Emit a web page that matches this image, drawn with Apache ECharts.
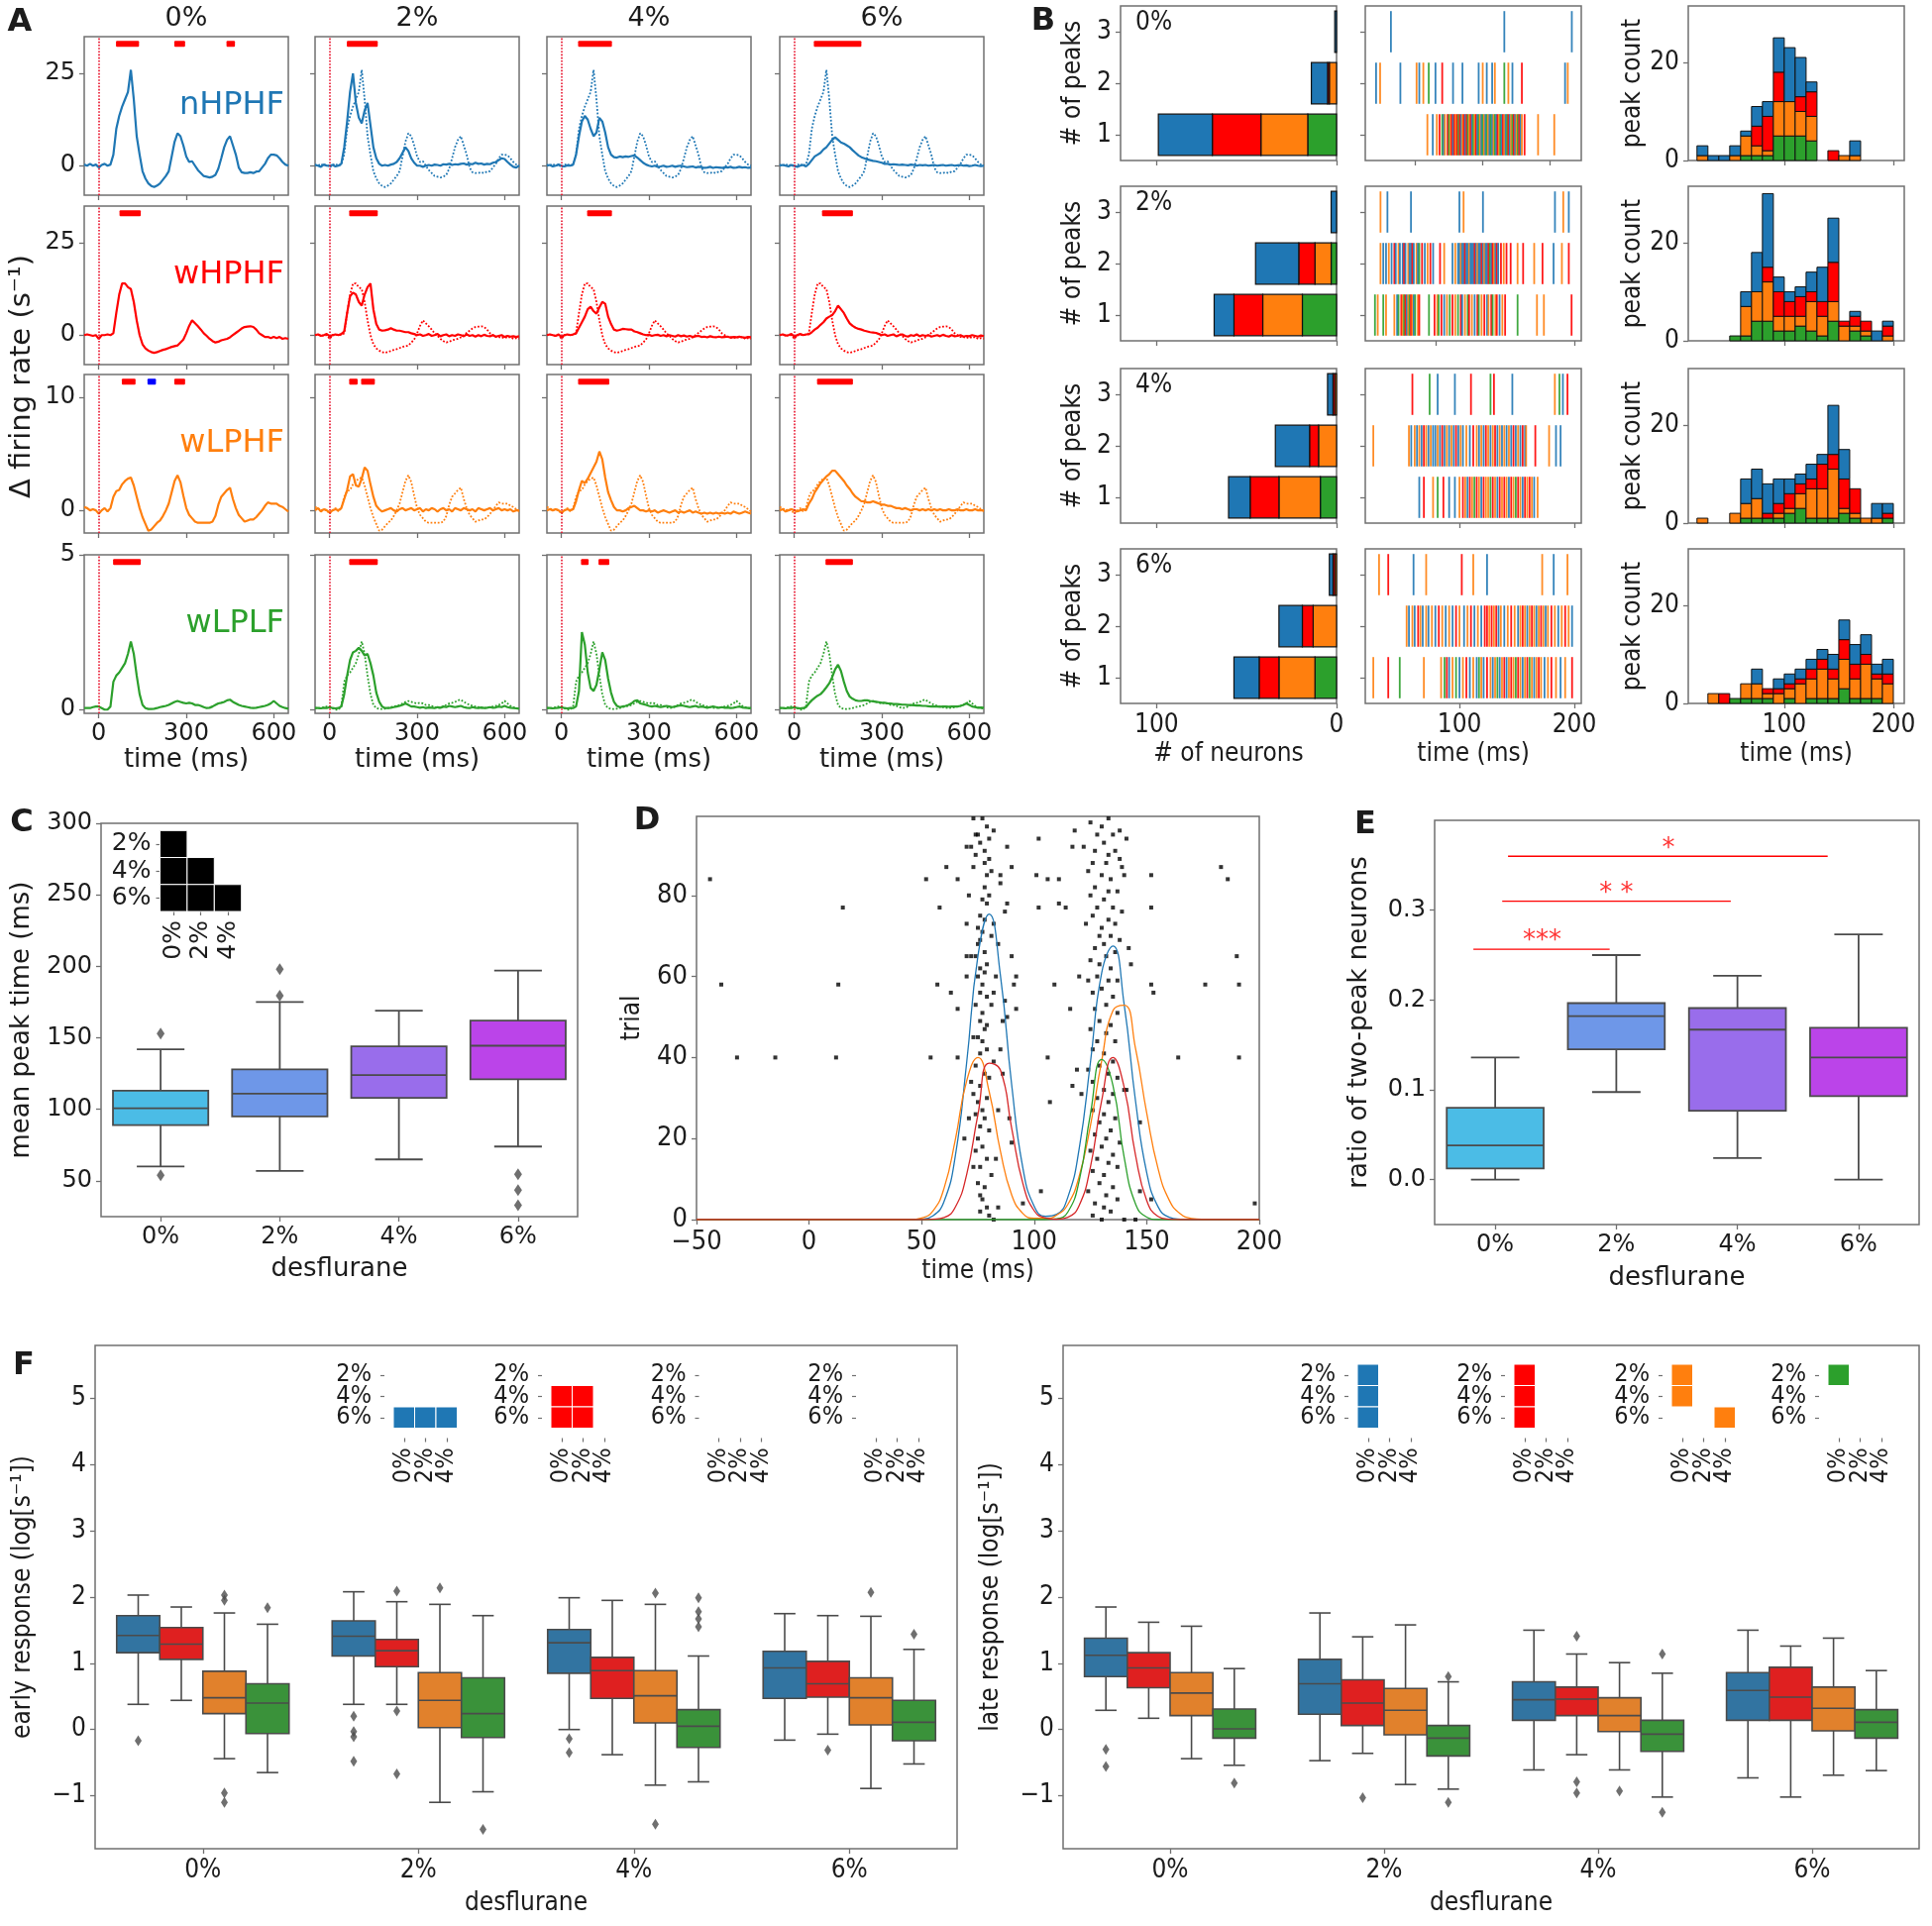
<!DOCTYPE html>
<html lang="en">
<head>
    <meta charset="UTF-8">
    <title>Peak timing under desflurane</title>
    <script src="https://cdn.jsdelivr.net/npm/echarts@6.0.0/dist/echarts.min.js"></script>
    <style>html, body { margin: 0; padding: 0; background: #fff; }</style>
</head>
<body>
    <div id="main" style="width: 1950px; height: 1944px;"></div>
    <script>
        // ---------- data ----------
        var conds = ['0%', '2%', '4%', '6%'];
        var cellTypes = ['nHPHF', 'wHPHF', 'wLPHF', 'wLPLF'];

        // A: firing-rate traces, sampled every 10 ms from -50 to 650 ms
        var nhphf0 = [0.3, 0, 0.5, 0, 0.3, -0.5, 0.2, 0.5, 0, 0.3,
            3, 10, 13.5, 16, 18, 20, 26, 18, 8, 3,
            -1.5, -3.5, -4.8, -5.5, -5.8, -5.4, -4.8, -3.8, -2.8, -1.5,
            2.5, 6.5, 8.8, 8, 5.5, 2.5, 1, 1.2, 0, -1.2,
            -2, -2.8, -3, -3.2, -3, -2.5, -0.8, 2, 5, 7,
            8, 5.5, 3, -0.5, -1.8, -2, -2, -1.8, -2, -1.6,
            -1.5, -0.5, 0.5, 2, 3, 3, 2.8, 2, 1, 0.3, 0];
        var nhphf2 = [0.2, 0, -0.3, 0.3, 0, 0, 0.2, -0.2, 0, 0.5,
            5, 12, 20, 25, 17, 13, 11.5, 15, 17, 11,
            5, 2, 0.5, 0, 0.2, 0, 0.3, 0.5, 1, 2,
            3.5, 5, 4, 2, 0.8, 0, 0, -0.3, 0, 0.2,
            0, 0.3, 0.2, 0, 0.4, 0.3, 0.5, 0.2, 0.4, 0.3,
            0.5, 0.6, 0.3, 0.5, 0.4, 0.8, 0.5, 0.6, 0.3, 0.5,
            0.4, 0.8, 1, 1.5, 2, 1.8, 1, 0.3, -0.3, -0.5, 0];
        var nhphf4 = [0, 0.2, -0.2, 0, 0.3, 0, -0.2, 0.1, 0, 0.3,
            3, 8, 12, 13.5, 12.5, 10, 8, 9, 13, 12,
            9, 5, 3, 2.3, 2.2, 2.5, 2.3, 2.5, 2.4, 2.6,
            2.8, 2.2, 1.5, 0.8, 0.3, 0, -0.2, 0, -0.3, -0.2,
            0, -0.3, -0.2, 0, -0.3, -0.1, 0, -0.2, -0.4, -0.3,
            -0.2, -0.5, -0.3, -0.4, -0.6, -0.5, -0.3, -0.6, -0.4, -0.5,
            -0.6, -0.4, -0.5, -0.3, -0.6, -0.5, -0.3, -0.5, -0.4, -0.6, -0.5];
        var nhphf6 = [0, 0.2, 0, -0.2, 0.2, 0, -0.3, 0, 0.2, -0.2,
            0.5, 1.5, 2.5, 3, 3.5, 4.4, 5, 6, 7, 7.7,
            7, 6.3, 6, 5.5, 5, 4.2, 3.5, 2.8, 2.3, 2,
            1.7, 1.5, 1.3, 1.2, 1, 0.8, 0.5, 0.5, 0.3, 0.4,
            0.3, 0.2, 0.3, 0.2, 0.1, 0.3, 0.2, 0, 0.2, 0.1,
            0.2, 0, 0.1, 0.2, 0, 0.1, 0.2, 0, 0.1, 0.2,
            0, 0.1, 0.2, 0, 0.1, -0.1, 0, 0.2, 0, -0.1, 0];
        var whphf0 = [0, 0.2, 0, -0.2, 0, -1, 0, 0, 0.2, 0,
            0.5, 6, 11, 14, 14, 13, 12.5, 9, 4, 0,
            -2.5, -3.6, -4.2, -4.6, -4.8, -4.6, -4.3, -4, -3.8, -3.5,
            -3.2, -3, -2.8, -2, -1.2, 0.5, 2.5, 4, 3.2, 2.4,
            1.5, 0.5, -0.2, -1, -1.6, -2, -1.8, -1.4, -1.2, -1,
            -0.6, 0, 0.6, 1.2, 1.8, 2.2, 2.3, 2.4, 2.2, 1.5,
            0.5, 0, -0.5, -0.5, -0.8, -0.5, -0.8, -0.5, -1, -0.8, -1];
        var whphf2 = [0, 0.2, -0.2, 0, 0.3, -0.3, 0, 0.2, 0, 0.3,
            1, 6, 10.5, 11.5, 11, 9, 8, 11, 13, 14,
            7, 3, 1.5, 1.2, 1.3, 1.5, 1.9, 1.5, 1.2, 1.2,
            1, 0.8, 0.8, 0.5, 0.3, 0, 0.2, -0.2, 0, 0.3,
            -0.2, 0, 0.3, -0.3, 0, 0.2, -0.3, 0, -0.2, 0.2,
            0, -0.3, 0.2, -0.2, 0, -0.4, 0, -0.3, 0.1, -0.2,
            -0.3, 0, -0.4, -0.2, 0, -0.5, -0.2, -0.4, -0.3, -0.5, -0.3];
        var whphf4 = [0, 0.2, 0, -0.2, 0.2, -0.5, 0, 0.2, 0, 0.2,
            0.5, 2, 3.5, 5, 7, 7.7, 6.5, 5.8, 7.5, 9,
            8.5, 5, 3, 1.5, 1.2, 1.4, 1.7, 1.6, 1.5, 1.5,
            1, 0.8, 0.5, 0.2, 0, 0.1, -0.2, 0, 0.1, -0.2,
            0, -0.3, 0, -0.2, -0.4, 0, -0.3, -0.1, -0.4, -0.2,
            -0.5, -0.3, -0.2, -0.5, -0.4, -0.6, -0.3, -0.5, -0.6, -0.4,
            -0.6, -0.5, -0.4, -0.7, -0.5, -0.6, -0.4, -0.6, -0.7, -0.5, -0.6];
        var whphf6 = [0, 0.2, -0.1, 0, 0.3, -0.4, 0, 0.3, 0, 0.2,
            0.2, 0.8, 1.5, 2, 2.8, 3.5, 4.5, 5, 5.4, 6.5,
            8, 7, 6, 4.5, 3.2, 2.5, 2, 1.7, 1.5, 1.2,
            1, 0.8, 0.7, 0.6, 0.3, 0, 0.2, -0.2, 0, 0.2,
            -0.3, 0, 0.2, -0.2, -0.4, 0, -0.2, 0.2, -0.3, 0,
            -0.2, 0, -0.4, -0.2, 0, -0.3, 0.1, -0.2, -0.4, 0,
            -0.3, -0.2, 0, -0.4, -0.2, -0.3, 0, -0.2, -0.4, -0.1, -0.3];
        var wlphf0 = [0.3, 0.2, 0, 0.1, 0, -0.3, 0, 0.2, -0.1, 0.2,
            1.2, 1.7, 1.8, 2.3, 2.6, 2.8, 2.9, 2.2, 1.2, 0.2,
            -0.6, -1.2, -1.8, -1.7, -1.4, -1.1, -0.9, -0.5, 0, 0.6,
            1.6, 2.6, 3.1, 2.5, 1.3, 0.2, -0.4, -0.7, -1, -1.1,
            -1.1, -1.1, -1.1, -1.1, -1, -0.5, 0.5, 1.2, 1.5, 1.8,
            2, 1, 0.2, -0.4, -0.7, -1, -0.9, -0.8, -0.8, -0.6,
            -0.3, 0, 0.4, 0.7, 0.6, 0.6, 0.6, 0.4, 0.3, 0.1, -0.1];
        var wlphf2 = [0, 0.2, -0.1, 0.1, 0, -0.2, 0, 0.1, 0, 0.2,
            1, 1.8, 3, 3.2, 2.2, 2.1, 2.8, 3.8, 3.5, 2.3,
            1.2, 0.4, 0.1, -0.1, 0, 0.1, 0.2, 0, -0.1, 0.1,
            0.2, 0, 0.1, 0.2, 0, 0.1, 0.2, -0.1, 0.1, 0,
            0.2, 0.1, -0.1, 0.1, 0.2, 0, 0.1, -0.1, 0.2, 0.1,
            0, 0.2, 0.1, 0, 0.1, -0.1, 0.2, 0.1, 0, 0.1,
            0.2, 0, 0.1, 0.2, 0, 0.1, 0, 0.1, -0.1, 0, 0];
        var wlphf4 = [0, 0.1, 0, 0.1, 0, -0.2, 0, 0.1, 0, 0.1,
            0.8, 1.8, 2.6, 2.4, 2.8, 3.3, 3.8, 4.3, 5.2, 4.5,
            2.9, 1.6, 0.9, 0.3, 0, 0, -0.1, 0, 0.2, 0.3,
            0.4, 0.2, 0, 0, -0.1, 0, -0.1, 0, -0.2, -0.1,
            0, -0.1, -0.2, -0.1, 0, -0.2, -0.1, -0.2, -0.1, 0,
            -0.2, -0.1, -0.2, -0.3, -0.2, -0.3, -0.2, -0.3, -0.2, -0.3,
            -0.2, -0.3, -0.2, -0.3, -0.1, -0.2, -0.3, -0.2, -0.1, -0.2, -0.3];
        var wlphf6 = [0, 0.1, -0.1, 0, 0.1, 0, -0.1, 0, 0.1, 0,
            0.6, 1, 1.6, 2, 2.4, 2.7, 3, 3.2, 3.5, 3.5,
            3.2, 2.9, 2.6, 2.2, 1.9, 1.5, 1.2, 1, 0.8, 0.8,
            0.7, 0.7, 0.8, 0.7, 0.6, 0.5, 0.5, 0.4, 0.4, 0.3,
            0.2, 0.2, 0.1, 0.2, 0.1, 0, 0.1, 0.1, 0, 0.1,
            0, 0.1, 0, 0.1, 0, 0.1, 0, 0, 0.1, 0,
            0, 0.1, 0, 0, 0.1, 0, 0, 0.1, 0, 0, 0];
        var wlplf0 = [0.05, 0.05, 0.05, 0.08, 0.1, 0.1, 0.05, 0, 0, 0.1,
            0.9, 1.1, 1.2, 1.35, 1.5, 1.8, 2.2, 1.8, 1.1, 0.5,
            0.15, 0.05, 0.02, 0.02, 0.03, 0.05, 0.08, 0.1, 0.12, 0.15,
            0.2, 0.25, 0.28, 0.25, 0.22, 0.2, 0.22, 0.2, 0.15, 0.15,
            0.12, 0.08, 0.05, 0.06, 0.1, 0.15, 0.2, 0.22, 0.25, 0.3,
            0.32, 0.25, 0.2, 0.15, 0.12, 0.1, 0.08, 0.06, 0.05, 0.06,
            0.08, 0.1, 0.12, 0.15, 0.2, 0.28, 0.2, 0.12, 0.08, 0.05, 0.03];
        var wlplf2 = [0.05, 0.05, 0.04, 0.06, 0.05, 0.08, 0.05, 0.04, 0.05, 0.1,
            0.5, 1.1, 1.6, 1.85, 1.9, 2, 1.9, 1.75, 1.8, 1.5,
            1.1, 0.55, 0.25, 0.1, 0.05, 0.05, 0.06, 0.08, 0.1, 0.12,
            0.15, 0.2, 0.15, 0.1, 0.1, 0.08, 0.06, 0.08, 0.05, 0.07,
            0.06, 0.05, 0.08, 0.06, 0.1, 0.08, 0.12, 0.1, 0.08, 0.1,
            0.12, 0.08, 0.06, 0.05, 0.08, 0.06, 0.05, 0.07, 0.05, 0.06,
            0.08, 0.06, 0.07, 0.1, 0.08, 0.12, 0.08, 0.06, 0.05, 0.04, 0.03];
        var wlplf4 = [0.05, 0.05, 0.04, 0.05, 0.06, 0.08, 0.05, 0.04, 0.05, 0.05,
            0.1, 0.6, 2.5, 2.1, 1.2, 0.7, 0.6, 0.8, 1.3, 1.85,
            1.6, 1, 0.55, 0.25, 0.12, 0.08, 0.1, 0.12, 0.15, 0.2,
            0.28, 0.3, 0.2, 0.18, 0.15, 0.12, 0.1, 0.12, 0.1, 0.08,
            0.1, 0.12, 0.1, 0.08, 0.1, 0.12, 0.14, 0.12, 0.1, 0.08,
            0.1, 0.12, 0.08, 0.1, 0.08, 0.06, 0.08, 0.1, 0.08, 0.06,
            0.08, 0.06, 0.07, 0.05, 0.06, 0.08, 0.1, 0.07, 0.06, 0.05, 0.05];
        var wlplf6 = [0.05, 0.05, 0.04, 0.06, 0.05, 0.08, 0.05, 0.04, 0.05, 0.08,
            0.2, 0.3, 0.38, 0.45, 0.5, 0.6, 0.72, 0.85, 1.05, 1.3,
            1.45, 1.25, 0.9, 0.6, 0.42, 0.35, 0.3, 0.28, 0.28, 0.3,
            0.3, 0.28, 0.27, 0.25, 0.24, 0.22, 0.22, 0.2, 0.2, 0.18,
            0.18, 0.17, 0.16, 0.16, 0.15, 0.15, 0.14, 0.13, 0.13, 0.12,
            0.12, 0.11, 0.1, 0.1, 0.1, 0.09, 0.1, 0.1, 0.09, 0.1,
            0.1, 0.1, 0.12, 0.15, 0.2, 0.15, 0.1, 0.08, 0.06, 0.07, 0.06];

        // A: significant windows [start ms, end ms, +1 increase / -1 decrease]
        var sigA = [
            [[[59, 138, 1], [259, 296, 1], [438, 467, 1]], [[59, 165, 1]], [[57, 173, 1]], [[67, 230, 1]]],
            [[[71, 144, 1]], [[67, 165, 1]], [[88, 173, 1]], [[95, 201, 1]]],
            [[[79, 126, 1], [167, 196, -1], [259, 296, 1]], [[67, 96, 1], [108, 155, 1]], [[57, 164, 1]], [[78, 201, 1]]],
            [[[49, 144, 1]], [[67, 165, 1]], [[67, 93, 1], [127, 164, 1]], [[107, 201, 1]]]
        ];

        // B: neurons per number of peaks [1, 2, 3], one row per condition
        var nBlue = [[30, 9, 1], [11, 24, 3], [12, 19, 3], [14, 13, 2]];
        var nRed = [[27, 1, 0], [16, 9, 0], [16, 5, 1], [11, 6, 1]];
        var nOrange = [[26, 4, 0], [22, 9, 0], [23, 10, 1], [20, 13, 1]];
        var nGreen = [[16, 0, 0], [19, 3, 0], [9, 0, 0], [12, 0, 0]];

        // B: peak times [ms, type] (0 nHPHF, 1 wHPHF, 2 wLPHF, 3 wLPLF)
        var peaks0_1 = [[59,2],[63,0],[66,2],[68,1],[70,3],[71,0],[72,2],[74,1],[75,3],[76,2],[77,1],[78,0],[79,1],[80,2],[81,1],[82,3],[83,1],[84,0],[85,2],[86,1],[87,0],[88,1],[89,3],[90,2],[91,1],[92,0],[93,3],[94,2],[95,1],[96,0],[97,3],[98,2],[99,0],[100,3],[101,2],[102,0],[103,3],[104,2],[105,0],[106,3],[107,0],[108,2],[109,3],[110,0],[111,1],[112,2],[113,3],[114,0],[115,1],[116,2],[117,0],[118,3],[119,1],[120,0],[121,2],[122,3],[123,1],[124,0],[125,2],[126,3],[127,1],[128,0],[129,2],[131,1],[141,2],[153,2]];
        var peaks0_2 = [[21,0],[24,2],[39,0],[51,2],[53,0],[56,2],[60,3],[65,0],[70,1],[78,0],[85,0],[97,0],[100,2],[103,0],[107,0],[109,2],[116,3],[119,2],[122,0],[129,1],[161,0],[163,2]];
        var peaks0_3 = [[32,0],[116,0],[166,0]];
        var peaks2_1 = [[56,3],[58,2],[62,3],[64,2],[70,2],[72,0],[73,3],[75,1],[76,2],[77,3],[78,1],[79,0],[80,2],[81,3],[82,1],[83,2],[84,0],[85,3],[87,2],[88,1],[95,3],[99,1],[101,2],[102,3],[104,1],[106,0],[108,2],[110,3],[112,1],[114,2],[116,3],[118,1],[119,0],[121,2],[123,3],[124,1],[126,2],[128,0],[130,1],[131,3],[133,2],[135,1],[137,0],[138,2],[140,1],[141,3],[143,2],[144,1],[146,0],[148,2],[150,1],[159,3],[173,2],[178,2],[198,1]];
        var peaks2_2 = [[60,2],[62,0],[64,0],[66,2],[68,0],[70,1],[71,0],[73,2],[74,0],[76,0],[77,1],[78,0],[80,2],[81,0],[82,0],[83,1],[84,0],[86,2],[87,0],[88,3],[90,1],[92,0],[94,2],[96,1],[98,0],[103,1],[106,2],[112,0],[114,2],[116,0],[117,0],[118,2],[119,0],[120,0],[121,1],[122,0],[123,0],[124,2],[125,0],[126,0],[127,0],[128,1],[129,0],[130,2],[131,0],[132,0],[133,1],[134,0],[135,2],[136,0],[137,0],[138,1],[139,3],[140,0],[141,1],[142,2],[143,0],[144,1],[145,0],[147,1],[149,2],[151,1],[154,1],[159,2],[163,1],[171,2],[177,1],[185,0],[191,2],[196,1]];
        var peaks2_3 = [[60,2],[65,0],[82,0],[117,0],[120,2],[134,0],[186,0],[192,2],[196,0]];
        var peaks4_1 = [[65,0],[69,1],[77,2],[81,3],[86,1],[91,0],[96,0],[100,2],[103,1],[105,2],[107,0],[109,1],[111,2],[113,3],[115,1],[117,2],[119,0],[121,1],[123,2],[125,2],[127,3],[129,1],[131,2],[133,0],[135,1],[137,2],[139,1],[141,2],[143,0],[145,1],[147,2],[149,3],[151,1],[153,2],[155,0],[157,1],[159,2],[161,1],[163,2],[165,0],[168,2]];
        var peaks4_2 = [[25,2],[56,2],[58,0],[61,2],[63,0],[65,2],[67,0],[69,1],[71,2],[73,0],[75,2],[77,0],[79,0],[81,2],[83,0],[85,1],[87,0],[89,2],[91,0],[93,2],[95,0],[97,1],[99,0],[101,2],[103,0],[106,2],[109,0],[112,1],[115,2],[117,0],[119,2],[121,0],[123,1],[125,2],[127,0],[129,2],[131,1],[133,0],[135,2],[137,0],[139,2],[141,0],[143,2],[145,0],[147,1],[149,0],[151,2],[153,0],[155,1],[157,0],[158,2],[166,1],[178,2],[184,0],[188,0]];
        var peaks4_3 = [[59,1],[74,3],[81,0],[96,0],[110,1],[127,3],[130,1],[146,0],[183,2],[187,3],[190,0],[194,1]];
        var peaks6_1 = [[25,2],[38,1],[48,3],[69,2],[84,2],[87,3],[89,1],[91,0],[94,2],[97,3],[100,0],[103,2],[106,1],[109,0],[112,2],[115,0],[117,3],[119,2],[121,0],[124,1],[127,2],[129,0],[131,2],[133,3],[135,0],[137,2],[139,1],[141,0],[143,2],[145,1],[147,2],[149,3],[151,1],[153,2],[155,0],[157,2],[159,1],[161,3],[163,2],[165,0],[167,2],[169,1],[171,2],[174,0],[177,2],[180,1],[184,2],[188,0],[192,2],[198,1]];
        var peaks6_2 = [[54,2],[56,0],[59,2],[61,0],[64,1],[66,2],[68,0],[71,2],[73,0],[76,2],[79,0],[82,1],[85,2],[88,0],[91,2],[94,0],[97,1],[100,2],[104,0],[107,2],[110,1],[113,0],[116,2],[119,0],[122,1],[124,1],[126,2],[128,1],[130,2],[132,1],[134,0],[136,2],[139,0],[142,2],[145,1],[148,2],[151,0],[153,2],[155,1],[157,2],[159,0],[161,2],[163,1],[165,2],[167,0],[169,2],[171,1],[173,2],[175,0],[177,2],[180,1],[183,2],[186,0],[189,2],[192,1],[195,2],[198,0]];
        var peaks6_3 = [[30,2],[38,1],[60,0],[71,2],[102,1],[112,2],[124,0],[172,2],[182,0],[194,2]];

        // B: peak-count histograms, 10 ms bins starting at 20 ms
        var binStarts = [20, 30, 40, 50, 60, 70, 80, 90, 100, 110, 120, 130, 140, 150, 160, 170, 180, 190];
        var histBlue = [[2,1,1,2,1,4,3,7,11,8,2,0,0,0,3,0,0,0], [0,0,0,0,3,8,15,3,2,2,4,7,9,0,1,0,2,1],
            [0,0,0,0,5,6,6,5,3,2,3,2,10,6,0,0,3,2], [0,0,0,0,0,3,0,2,2,2,2,2,3,4,4,4,2,3]];
        var histRed = [[0,0,0,0,0,4,7,6,0,3,5,0,2,0,0,0,0,0], [0,0,0,0,0,0,3,5,3,4,2,3,8,1,2,2,0,2],
            [0,0,0,0,0,0,1,2,3,2,2,5,3,6,5,0,0,1], [0,0,2,0,0,0,1,1,1,1,2,2,2,4,3,2,1,2]];
        var histOrange = [[1,0,0,1,4,2,1,7,7,5,5,0,0,1,1,0,0,0], [0,0,0,0,6,6,8,3,3,2,6,4,4,3,1,1,0,1],
            [1,0,0,2,3,4,0,1,1,3,6,6,10,1,1,1,1,0], [0,2,0,0,3,3,1,2,2,4,4,6,4,6,4,7,4,4]];
        var histGreen = [[0,0,0,0,1,1,1,5,5,5,4,0,0,0,0,0,0,0], [0,0,0,1,1,4,4,2,2,3,2,1,4,0,2,1,0,0],
            [0,0,0,0,1,1,1,1,2,3,1,1,1,2,1,0,0,1], [0,0,0,1,1,1,1,0,1,0,1,1,1,3,1,1,1,0]];

        // C: mean peak time boxes [low whisker, Q1, median, Q3, high whisker]
        var boxC = [[60, 89, 100.7, 113, 142], [57, 95, 111, 128, 175], [65, 108, 124, 144, 169], [74, 121, 144.5, 162, 197]];
        var outC = [[153, 54], [198, 179.5], [], [54.6, 43.5, 33]];
        var cellsC = [[0, 0], [0, 1], [1, 1], [0, 2], [1, 2], [2, 2]];

        // D: spikes [ms, trial] and fitted peak curves
        var spikesD = [[-44,84],[-39,58],[-32,40],[-15,40],[12,40],[13,58],[15,77],[52,84],[54,40],[57,58],[58,77],[63,56],[66,52],[66,40],[61,87],[66,84],[69,20],[70,65],[70,92],[73,99],[74,95],[82,96],[88,92],[90,87],[85,85],[87,76],[90,65],[91,58],[92,60],[92,52],[88,50],[90,19],[95,4],[102,94],[101,85],[102,77],[103,7],[106,40],[107,29],[106,84],[111,84],[111,78],[114,77],[109,58],[116,52],[117,92],[118,96],[117,33],[119,37],[120,60],[121,31],[152,85],[152,77],[152,58],[153,56],[152,5],[164,40],[176,58],[183,87],[186,84],[190,65],[191,58],[191,40],[198,4],[147,7],[147,24],[141,32],
            [77,99],[79,97],[75,95],[80,94],[76,93],[72,92],[78,91],[80,89],[74,90],[78,88],[81,86],[79,85],[78,82],[80,80],[77,79],[79,78],[76,75],[78,74],[75,72],[77,71],[76,69],[75,68],[78,66],[74,65],[79,63],[76,62],[78,61],[75,60],[77,58],[76,56],[79,55],[74,53],[81,53],[77,51],[76,49],[78,47],[75,45],[77,44],[79,42],[76,41],[74,38],[78,36],[80,35],[76,33],[73,31],[79,30],[75,29],[77,27],[74,26],[78,25],[76,23],[80,22],[75,20],[77,18],[74,17],[79,15],[76,13],[81,11],[75,9],[78,8],[76,6],[77,5],[79,3],[76,2],[80,1],[82,0],[83,15],[84,27],[85,42],[86,49],[87,54],[83,60],[84,68],[82,73],[72,65],[70,73],[71,80],[73,87],[79,48],[82,56],[70,60],[73,45],[72,34],[71,25],[73,13],[84,3],[85,83],[86,36],[88,78],[89,25],[82,39],[81,70],
            [133,99],[125,98],[130,97],[138,96],[128,95],[135,95],[141,94],[122,92],[131,93],[127,91],[136,91],[133,90],[138,89],[126,88],[132,88],[139,87],[124,86],[130,85],[134,84],[140,85],[127,82],[133,81],[137,81],[125,80],[131,79],[128,77],[135,77],[139,76],[126,75],[133,74],[136,73],[123,73],[130,72],[129,70],[134,70],[138,69],[131,68],[127,67],[136,66],[132,65],[142,67],[125,64],[129,63],[134,62],[143,63],[128,60],[124,59],[133,59],[137,59],[130,57],[126,56],[135,55],[132,53],[127,52],[137,51],[129,49],[134,48],[125,47],[132,46],[128,44],[136,44],[126,42],[131,41],[135,39],[129,38],[124,37],[133,36],[137,35],[126,34],[131,32],[135,31],[140,32],[128,30],[133,29],[126,27],[131,26],[136,25],[129,24],[134,22],[127,21],[132,20],[138,19],[130,18],[125,17],[135,16],[128,15],[133,14],[137,13],[126,12],[131,11],[129,9],[135,8],[124,7],[132,6],[137,5],[127,4],[131,3],[134,2],[126,1],[130,0],[140,0],[145,0]];
        var gaussT = [-50, 40, 45, 50, 55, 60, 65, 70, 75, 80, 85, 90, 95, 100, 105, 110, 115, 120, 125, 130, 135, 140, 145, 150, 155, 160, 165, 170, 175, 200];
        var gaussBlue = [0, 0, 0, 0.1, 0.9, 4.5, 15.8, 38.7, 65, 75.4, 60.3, 33.3, 12.7, 3.3, 0.8, 1.3, 5.6, 17.5, 38.8, 60.9, 67.5, 53, 29.4, 11.6, 3.2, 0.6, 0.1, 0, 0, 0];
        var gaussOrange = [0, 0, 0, 0.4, 2.1, 7.8, 19.8, 34.2, 40, 31.6, 16.9, 6.1, 1.5, 0.3, 0.3, 1.1, 3.8, 10.7, 23.2, 39.2, 51.6, 52.9, 42.3, 26.3, 12.7, 4.8, 1.4, 0.3, 0.1, 0];
        var gaussRed = [0, 0, 0, 0, 0.1, 0.5, 3.1, 11.1, 25.9, 38.6, 36.9, 22.6, 8.9, 2.2, 0.4, 0.1, 0.6, 3.5, 13, 29.4, 40, 32.6, 16, 4.7, 0.8, 0.1, 0, 0, 0, 0];
        var gaussGreen = [0, 0, 0, 0, 0, 0, 0, 0, 0, 0, 0, 0, 0, 0, 0, 0.2, 1.9, 9.6, 26.1, 39.5, 33.1, 15.3, 3.9, 0.6, 0, 0, 0, 0, 0, 0];

        // E: ratio of two-peak neurons
        var boxE = [[0, 0.0125, 0.038, 0.080, 0.136], [0.0975, 0.145, 0.182, 0.1965, 0.25], [0.024, 0.0766, 0.167, 0.191, 0.227], [0, 0.093, 0.136, 0.169, 0.273]];
        var sigE = [[-0.18, 0.945, 0.2565], [0.058, 1.945, 0.31], [0.106, 2.745, 0.36]];
        var starsE = [[0.387, 0.265, '***'], [1.0, 0.318, '* *'], [1.43, 0.368, '*']];

        // F: early / late responses, [type][condition] -> box stats
        var earlyStats = [
            [[0.38, 1.16, 1.42, 1.72, 2.03], [0.38, 1.11, 1.41, 1.64, 2.08], [0, 0.85, 1.31, 1.51, 1.99], [-0.16, 0.47, 0.93, 1.18, 1.75]],
            [[0.44, 1.06, 1.29, 1.54, 1.85], [0.38, 0.95, 1.19, 1.36, 1.93], [-0.38, 0.47, 0.89, 1.09, 1.95], [-0.07, 0.49, 0.69, 1.03, 1.72]],
            [[-0.44, 0.24, 0.48, 0.88, 1.76], [-1.1, 0.03, 0.44, 0.86, 1.89], [-0.84, 0.1, 0.51, 0.89, 1.89], [-0.89, 0.07, 0.48, 0.78, 1.71]],
            [[-0.65, -0.06, 0.4, 0.69, 1.59], [-0.94, -0.12, 0.24, 0.78, 1.72], [-0.79, -0.27, 0.05, 0.3, 1.11], [-0.52, -0.17, 0.11, 0.44, 1.21]]];
        var earlyOut = [
            [[-0.17], [0.2, -0.03, -0.11, -0.48], [-0.14, -0.35], []],
            [[], [2.09, 0.28, -0.67], [], [-0.31]],
            [[2.03, 1.95, -0.96, -1.1], [2.14], [2.06, -1.43], [2.07]],
            [[1.84], [-1.51], [1.99, 1.78, 1.67, 1.55], [1.44]]];
        var lateStats = [
            [[0.29, 0.80, 1.12, 1.38, 1.85], [-0.47, 0.23, 0.69, 1.06, 1.76], [-0.61, 0.14, 0.45, 0.72, 1.50], [-0.73, 0.14, 0.59, 0.86, 1.50]],
            [[0.17, 0.63, 0.93, 1.16, 1.62], [-0.36, 0.06, 0.40, 0.75, 1.40], [-0.38, 0.21, 0.46, 0.64, 1.14], [-1.02, 0.14, 0.49, 0.94, 1.26]],
            [[-0.44, 0.21, 0.55, 0.86, 1.56], [-0.83, -0.08, 0.29, 0.62, 1.58], [-0.61, -0.03, 0.21, 0.48, 1.01], [-0.69, -0.02, 0.32, 0.64, 1.38]],
            [[-0.54, -0.13, 0.01, 0.31, 0.92], [-0.90, -0.40, -0.13, 0.06, 0.72], [-1.02, -0.33, -0.07, 0.14, 0.85], [-0.62, -0.13, 0.11, 0.30, 0.89]]];
        var lateOut = [
            [[-0.30, -0.56], [], [], []],
            [[], [-1.03], [1.41, -0.79, -0.96], []],
            [[], [], [-0.93], []],
            [[-0.81], [0.80, -1.10], [1.14, -1.25], []]];
        // significant pairs per type: [column (0%,2%,4%), row (2%,4%,6%)]
        var earlyCells = [[[0, 2], [1, 2], [2, 2]], [[0, 1], [1, 1], [0, 2], [1, 2]], [], []];
        var lateCells = [[[0, 0], [0, 1], [0, 2]], [[0, 0], [0, 1], [0, 2]], [[0, 0], [0, 1], [2, 2]], [[0, 0]]];

        // ---------- styles ----------
        var FAM = 'DejaVu Sans', COND = 'DejaVu Sans Condensed';
        var FRAME = '#707070', TXT = '#1c1c1c', BOXLINE = '#4b4b4b';
        var typeColors = ['#1f77b4', '#ff0000', '#ff7f0e', '#2ca02c'];
        var fBoxColors = ['#3274a1', '#df2020', '#e1812c', '#3a923a'];
        var coolColors = ['#4bbce6', '#6e97e8', '#996deb', '#bb44e9'];
        var minus = function (v) { return v < 0 ? '\u2212' + Math.abs(v) : String(v); };
        var condName = function (v) { return conds[v]; };

        var option = {animation: false, textStyle: {fontFamily: FAM}, grid: [], xAxis: [], yAxis: [], series: [], graphic: {elements: []}};

        function panel(box, xa, ya) {
            option.grid.push({left: box[0], top: box[1], width: box[2], height: box[3], show: box[4] !== false,
                borderColor: FRAME, borderWidth: 1.5, backgroundColor: 'transparent'});
            var i = option.grid.length - 1;
            xa.gridIndex = i; ya.gridIndex = i;
            option.xAxis.push(xa); option.yAxis.push(ya);
            return i;
        }
        function addSeries(i, s) { s.xAxisIndex = i; s.yAxisIndex = i; s.silent = true; option.series.push(s); }
        function vAxis(min, max, ticks, o) {
            o = o || {};
            var fam = o.fam || FAM;
            var lab = {show: o.labels !== false, customValues: ticks, color: TXT, fontSize: o.fs || 24, fontFamily: fam, margin: o.margin || 9};
            if (o.fmt) lab.formatter = o.fmt;
            return {type: 'value', min: min, max: max, inverse: !!o.inverse,
                axisLine: {show: false, onZero: false}, splitLine: {show: false},
                axisTick: {show: true, length: 5, lineStyle: {color: FRAME, width: 1.3}, customValues: ticks},
                axisLabel: lab,
                name: o.name || '', nameLocation: 'middle', nameGap: o.gap || 30,
                nameTextStyle: {color: TXT, fontSize: o.nfs || 26, fontFamily: fam}};
        }
        function cAxis(cats, o) {
            return {type: 'category', data: cats, inverse: !!o.inverse, offset: o.offset || 0,
                axisLine: {show: false, onZero: false}, splitLine: {show: false},
                axisTick: {show: true, alignWithLabel: true, interval: 0, length: 4, lineStyle: {color: FRAME, width: 1.2}},
                axisLabel: {show: true, interval: 0, rotate: o.rotate || 0, color: TXT, fontSize: o.fs, fontFamily: o.fam, margin: o.margin}};
        }
        function label(x, y, str, font, o) {
            o = o || {};
            option.graphic.elements.push({type: 'text', x: x, y: y, rotation: o.rot || 0, silent: true, z: 10,
                style: {text: str, font: font, fill: o.color || TXT, textAlign: o.align || 'center', textVerticalAlign: 'middle'}});
        }
        function pairs(xs, ys) { return xs.map(function (x, i) { return [x, ys[i]]; }); }

        // ---------- render items ----------
        function sigBarItem(yv) {
            return function (params, api) {
                var a = api.coord([api.value(0), yv]), b = api.coord([api.value(1), yv]);
                return {type: 'rect', shape: {x: a[0], y: a[1] - 3, width: b[0] - a[0], height: 6, r: 1},
                    style: {fill: api.value(2) > 0 ? '#ff0000' : '#0000ff'}};
            };
        }
        function hbarItem(params, api) {
            var n = api.value(0);
            var a = api.coord([api.value(1), n + 0.4]), b = api.coord([api.value(2), n - 0.4]);
            return {type: 'rect', shape: {x: Math.min(a[0], b[0]), y: a[1], width: Math.abs(b[0] - a[0]), height: b[1] - a[1]},
                style: {fill: typeColors[api.value(3)], stroke: '#111', lineWidth: 1.2}};
        }
        function tickItem(params, api) {
            var a = api.coord([api.value(0), api.value(1) + 0.4]), b = api.coord([api.value(0), api.value(1) - 0.4]);
            return {type: 'line', shape: {x1: a[0], y1: a[1], x2: b[0], y2: b[1]},
                style: {stroke: typeColors[api.value(2)], lineWidth: 1.8, opacity: 0.9}};
        }
        function histItem(params, api) {
            var a = api.coord([api.value(0), api.value(3)]), b = api.coord([api.value(1), api.value(2)]);
            return {type: 'rect', shape: {x: a[0], y: a[1], width: b[0] - a[0], height: b[1] - a[1]},
                style: {fill: typeColors[api.value(4)], stroke: '#111', lineWidth: 1}};
        }
        function makeBox(palette, lw) {
            return function (params, api) {
                var x = api.value(0), hw = api.value(6) / 2, col = palette[api.value(7)];
                var a = api.coord([x - hw, api.value(4)]), b = api.coord([x + hw, api.value(2)]);
                var cx = api.coord([x, 0])[0];
                var yMd = api.coord([x, api.value(3)])[1], yLo = api.coord([x, api.value(1)])[1], yHi = api.coord([x, api.value(5)])[1];
                var cl = api.coord([x - hw / 2, 0])[0], cr = api.coord([x + hw / 2, 0])[0];
                var st = {stroke: BOXLINE, lineWidth: lw};
                return {type: 'group', children: [
                    {type: 'line', shape: {x1: cx, y1: a[1], x2: cx, y2: yHi}, style: st},
                    {type: 'line', shape: {x1: cx, y1: b[1], x2: cx, y2: yLo}, style: st},
                    {type: 'line', shape: {x1: cl, y1: yHi, x2: cr, y2: yHi}, style: st},
                    {type: 'line', shape: {x1: cl, y1: yLo, x2: cr, y2: yLo}, style: st},
                    {type: 'rect', shape: {x: a[0], y: a[1], width: b[0] - a[0], height: b[1] - a[1]}, style: {fill: col, stroke: BOXLINE, lineWidth: lw}},
                    {type: 'line', shape: {x1: a[0], y1: yMd, x2: b[0], y2: yMd}, style: st}
                ]};
            };
        }
        function cellItem(color) {
            return function (params, api) {
                var c = api.coord([api.value(0), api.value(1)]), s = api.size([1, 1]);
                return {type: 'rect', shape: {x: c[0] - s[0] / 2, y: c[1] - s[1] / 2, width: s[0], height: s[1]},
                    style: {fill: color, stroke: '#fff', lineWidth: 1}};
            };
        }
        function outlierSeries(i, pts, size) {
            addSeries(i, {type: 'scatter', data: pts, symbol: 'diamond', symbolSize: size, itemStyle: {color: BOXLINE}, z: 4});
        }

        // ---------- panel A ----------
        var tA = [];
        for (var t = -50; t <= 650; t += 10) tA.push(t);
        var tracesA = [[nhphf0, nhphf2, nhphf4, nhphf6], [whphf0, whphf2, whphf4, whphf6],
            [wlphf0, wlphf2, wlphf4, wlphf6], [wlplf0, wlplf2, wlplf4, wlplf6]];
        var aLeft = [85, 318, 552, 787], aTop = [37, 208, 378, 560], aW = 206, aH = 160;
        var aYlim = [[-8, 35], [-8, 35], [-2, 12], [-0.12, 5]], aYticks = [[0, 25], [0, 25], [0, 10], [0, 5]];
        for (var r = 0; r < 4; r++) {
            for (var c = 0; c < 4; c++) {
                var i = panel([aLeft[c], aTop[r], aW, aH],
                    vAxis(-50, 650, [0, 300, 600], {labels: r === 3, name: r === 3 ? 'time (ms)' : '', gap: 30, fs: 24}),
                    vAxis(aYlim[r][0], aYlim[r][1], aYticks[r], {labels: c === 0, fs: 24}));
                var col = typeColors[r];
                if (c > 0) {
                    addSeries(i, {type: 'line', data: pairs(tA, tracesA[r][0]), symbol: 'none', showSymbol: false,
                        lineStyle: {color: col, width: 1.8, type: 'dotted'}, z: 2});
                }
                addSeries(i, {type: 'line', data: pairs(tA, tracesA[r][c]), symbol: 'none', showSymbol: false,
                    lineStyle: {color: col, width: 2.2}, z: 3,
                    markLine: {silent: true, symbol: ['none', 'none'], label: {show: false},
                        lineStyle: {color: '#e8102a', type: 'dotted', width: 1.6}, data: [{xAxis: 0}]}});
                var yb = aYlim[r][1] - 0.046 * (aYlim[r][1] - aYlim[r][0]);
                addSeries(i, {type: 'custom', data: sigA[r][c], renderItem: sigBarItem(yb), z: 4});
                if (r === 0) label(aLeft[c] + aW / 2, 19, conds[c], "27px 'DejaVu Sans'");
            }
            label(aLeft[0] + aW - 4, aTop[r] + 70, cellTypes[r], "32px 'DejaVu Sans'", {align: 'right', color: typeColors[r]});
        }
        label(22, 380, '\u0394 firing rate (s\u207b\u00b9)', "29px 'DejaVu Sans'", {rot: Math.PI / 2});

        // ---------- panel B ----------
        var bLeft = [1131, 1378, 1704], bTop = [6, 188, 372, 554], bW = 218, bH = 156;
        var nCounts = [nBlue, nRed, nOrange, nGreen];
        var rasters = [[peaks0_1, peaks0_2, peaks0_3], [peaks2_1, peaks2_2, peaks2_3], [peaks4_1, peaks4_2, peaks4_3], [peaks6_1, peaks6_2, peaks6_3]];
        var hists = [histBlue, histRed, histOrange, histGreen];
        var rasterXlim = [[13, 173], [49, 205], [18, 206], [18, 206]];
        var rasterTicks = [[50, 100, 150], [100, 200], [100, 200], [100, 200]];
        for (var r = 0; r < 4; r++) {
            var last = r === 3;
            var i = panel([bLeft[0], bTop[r], bW, bH],
                vAxis(0, 120, [0, 100], {inverse: true, labels: last, fam: COND, fs: 26, name: last ? '# of neurons' : '', gap: 38}),
                vAxis(0.5, 3.5, [1, 2, 3], {fam: COND, fs: 26, name: '# of peaks', gap: 35}));
            var bars = [];
            for (var n = 0; n < 3; n++) {
                var cum = 0;
                [3, 2, 1, 0].forEach(function (k) {
                    var v = nCounts[k][r][n];
                    if (v > 0) bars.push([n + 1, cum, cum + v, k]);
                    cum += v;
                });
            }
            addSeries(i, {type: 'custom', data: bars, renderItem: hbarItem, z: 3});

            var j = panel([bLeft[1], bTop[r], bW, bH],
                vAxis(rasterXlim[r][0], rasterXlim[r][1], rasterTicks[r], {labels: last, fam: COND, fs: 26, name: last ? 'time (ms)' : '', gap: 38}),
                vAxis(0.5, 3.5, [1, 2, 3], {labels: false}));
            var ticks = [];
            for (var n = 0; n < 3; n++) {
                rasters[r][n].forEach(function (p) { ticks.push([p[0], n + 1, p[1]]); });
            }
            addSeries(j, {type: 'custom', data: ticks, renderItem: tickItem, z: 3});

            var h = panel([bLeft[2], bTop[r], bW, bH],
                vAxis(12, 210, [100, 200], {labels: last, fam: COND, fs: 26, name: last ? 'time (ms)' : '', gap: 38}),
                vAxis(0, 31.5, [0, 20], {fam: COND, fs: 26, name: 'peak count', gap: 37}));
            var rects = [];
            binStarts.forEach(function (b0, bi) {
                var cum = 0;
                [3, 2, 1, 0].forEach(function (k) {
                    var v = hists[k][r][bi];
                    if (v > 0) rects.push([b0, b0 + 10, cum, cum + v, k]);
                    cum += v;
                });
            });
            addSeries(h, {type: 'custom', data: rects, renderItem: histItem, z: 3});
            label(1146, bTop[r] + 17, conds[r], "26px 'DejaVu Sans Condensed'", {align: 'left'});
        }

        // ---------- panel C ----------
        var iC = panel([102, 831, 481, 397],
            vAxis(-0.5, 3.5, [0, 1, 2, 3], {fmt: condName, name: 'desflurane', gap: 40}),
            vAxis(25, 300, [50, 100, 150, 200, 250, 300], {name: 'mean peak time (ms)', gap: 67}));
        addSeries(iC, {type: 'custom', data: boxC.map(function (s, k) { return [k, s[0], s[1], s[2], s[3], s[4], 0.8, k]; }),
            renderItem: makeBox(coolColors, 1.8), z: 3});
        var ptsC = [];
        outC.forEach(function (arr, k) { arr.forEach(function (v) { ptsC.push([k, v]); }); });
        outlierSeries(iC, ptsC, [8, 12]);
        var iCi = panel([161.5, 838.3, 82.2, 81.7, false],
            cAxis(['0%', '2%', '4%'], {rotate: 90, margin: 9, fs: 25, fam: FAM}),
            cAxis(['2%', '4%', '6%'], {inverse: true, margin: 9, fs: 25, fam: FAM}));
        addSeries(iCi, {type: 'custom', data: cellsC, renderItem: cellItem('#000000'), z: 5});

        // ---------- panel D ----------
        var iD = panel([703, 824, 568, 407],
            vAxis(-50, 200, [-50, 0, 50, 100, 150, 200], {fmt: minus, fam: COND, fs: 27, name: 'time (ms)', gap: 39}),
            vAxis(0, 99.5, [0, 20, 40, 60, 80], {fam: COND, fs: 27, name: 'trial', gap: 52}));
        addSeries(iD, {type: 'scatter', data: spikesD, symbol: 'rect', symbolSize: 4, itemStyle: {color: '#000'}, z: 3});
        [[gaussBlue, '#1f77b4'], [gaussOrange, '#ff7f0e'], [gaussGreen, '#2ca02c'], [gaussRed, '#d62728']].forEach(function (g) {
            addSeries(iD, {type: 'line', data: pairs(gaussT, g[0]), symbol: 'none', showSymbol: false, smooth: 0.5,
                lineStyle: {color: g[1], width: 1.3}, z: 4});
        });

        // ---------- panel E ----------
        var iE = panel([1448, 828, 489, 408],
            vAxis(-0.5, 3.5, [0, 1, 2, 3], {fmt: condName, name: 'desflurane', gap: 41}),
            vAxis(-0.05, 0.4, [0, 0.1, 0.2, 0.3], {fmt: function (v) { return v.toFixed(1); }, name: 'ratio of two-peak neurons', gap: 63}));
        addSeries(iE, {type: 'custom', data: boxE.map(function (s, k) { return [k, s[0], s[1], s[2], s[3], s[4], 0.8, k]; }),
            renderItem: makeBox(coolColors, 1.8), z: 3});
        sigE.forEach(function (s) {
            addSeries(iE, {type: 'line', data: [[s[0], s[2]], [s[1], s[2]]], symbol: 'none', showSymbol: false,
                lineStyle: {color: '#ff0000', width: 1.3}, z: 4});
        });
        addSeries(iE, {type: 'scatter', data: starsE, symbolSize: 1, itemStyle: {color: 'rgba(0,0,0,0)'}, z: 5,
            label: {show: true, position: 'inside', color: '#ff0000', fontSize: 26, fontFamily: FAM,
                formatter: function (p) { return p.value[2]; }}});

        // ---------- panel F ----------
        var fOffsets = [-0.3, -0.1, 0.1, 0.3];
        function drawF(box, stats, outl, yname, cells, insetLefts) {
            var i = panel(box,
                vAxis(-0.5, 3.5, [0, 1, 2, 3], {fmt: condName, fam: COND, fs: 26, name: 'desflurane', gap: 42}),
                vAxis(-1.8, 5.8, [-1, 0, 1, 2, 3, 4, 5], {fmt: minus, fam: COND, fs: 26, name: yname, gap: 60}));
            var data = [], pts = [];
            for (var k = 0; k < 4; k++) {
                for (var c = 0; c < 4; c++) {
                    var s = stats[k][c], x = c + fOffsets[k];
                    data.push([x, s[0], s[1], s[2], s[3], s[4], 0.2, k]);
                    outl[k][c].forEach(function (v) { pts.push([x, v]); });
                }
            }
            addSeries(i, {type: 'custom', data: data, renderItem: makeBox(fBoxColors, 1.6), z: 3});
            outlierSeries(i, pts, [7, 11]);
            for (var k = 0; k < 4; k++) {
                var j = panel([insetLefts[k], 1377, 64.5, 64.5, false],
                    cAxis(['0%', '2%', '4%'], {rotate: 90, offset: 10, margin: 10, fs: 25, fam: COND}),
                    cAxis(['2%', '4%', '6%'], {inverse: true, offset: 9, margin: 13, fs: 25, fam: COND}));
                addSeries(j, {type: 'custom', data: cells[k], renderItem: cellItem(typeColors[k]), z: 5});
            }
        }
        drawF([96, 1358, 870, 508], earlyStats, earlyOut, 'early response (log[s\u207b\u00b9])', earlyCells, [397, 556, 714.5, 873]);
        drawF([1073, 1358, 864, 508], lateStats, lateOut, 'late response (log[s\u207b\u00b9])', lateCells, [1370, 1528, 1687, 1845]);

        // ---------- panel letters ----------
        [['A', 20, 23], ['B', 1053, 22], ['C', 22, 831], ['D', 653, 829], ['E', 1378, 833], ['F', 24, 1379]].forEach(function (p) {
            label(p[1], p[2], p[0], "bold 32px 'DejaVu Sans'");
        });

        var myChart = echarts.init(document.getElementById('main'));
        myChart.setOption(option);
    </script>
</body>
</html>
